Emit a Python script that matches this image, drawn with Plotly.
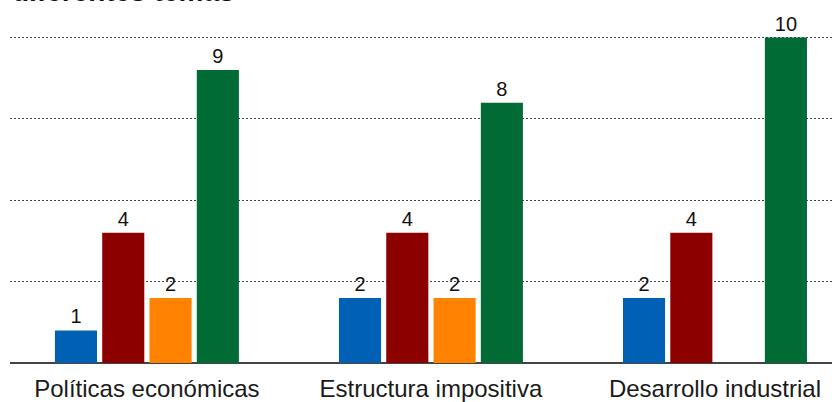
import plotly.graph_objects as go

# Topics and series values
temas = ["Políticas económicas", "Estructura impositiva", "Desarrollo industrial"]
serie_azul = [1, 2, 2]
serie_roja = [4, 4, 4]
serie_naranja = [2, 2, None]
serie_verde = [9, 8, 10]

colores = ["#0060b4", "#8c0000", "#ff8200", "#006b35"]
series = [serie_azul, serie_roja, serie_naranja, serie_verde]

x_pos = list(range(len(temas)))
FUENTE = "Liberation Sans, Arial, sans-serif"

fig = go.Figure()
for valores, color in zip(series, colores):
    fig.add_trace(go.Bar(
        x=x_pos,
        y=valores,
        marker=dict(color=color, line=dict(width=0)),
        text=[("" if v is None else str(v)) for v in valores],
        textposition="outside",
        textfont=dict(family=FUENTE, size=20, color="#111111"),
        cliponaxis=False,
        showlegend=False,
        hoverinfo="skip",
    ))

fig.update_layout(
    width=832,
    height=402,
    margin=dict(l=10, r=0, t=5, b=39),
    paper_bgcolor="white",
    plot_bgcolor="white",
    barmode="group",
    bargap=0.334,
    bargroupgap=0.11,
    xaxis=dict(
        range=[-0.482, 2.412],
        tickvals=x_pos,
        ticktext=temas,
        tickfont=dict(family=FUENTE, size=24, color="#1a1a1a"),
        ticklabelstandoff=9,
        automargin=False,
        showgrid=False,
        zeroline=False,
        showline=False,
        ticks="",
    ),
    yaxis=dict(
        range=[0, 11],
        tickvals=[2.5, 5, 7.5, 10],
        showticklabels=False,
        automargin=False,
        showgrid=True,
        gridcolor="#444444",
        gridwidth=1,
        griddash="2px,2px",
        zeroline=True,
        zerolinecolor="#444444",
        zerolinewidth=2,
        showline=False,
    ),
    font=dict(family=FUENTE),
    annotations=[dict(
        text="<b>diferentes temas</b>",
        xref="paper", yref="paper",
        x=0, y=1, xanchor="left", yanchor="bottom",
        yshift=-4.5,
        showarrow=False,
        font=dict(family=FUENTE, size=28, color="#111111"),
    )],
)

fig.write_html("out.html")
